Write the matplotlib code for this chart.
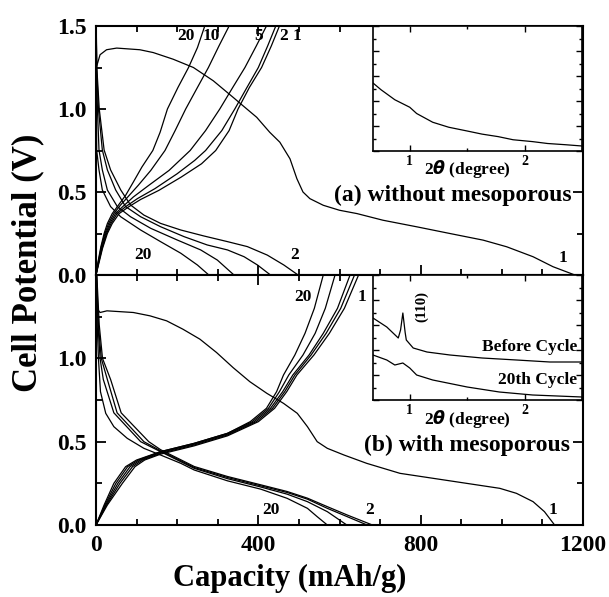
import numpy as np
import matplotlib.pyplot as plt
from matplotlib.ticker import MultipleLocator, NullFormatter

plt.rcParams['font.family'] = ['Liberation Serif', 'DejaVu Serif']
plt.rcParams['font.weight'] = 'bold'
plt.rcParams['mathtext.fontset'] = 'custom'
plt.rcParams['mathtext.it'] = 'DejaVu Sans:italic:bold'
plt.rcParams['mathtext.rm'] = 'Liberation Serif:bold'

# ---- (a) without mesoporous : (capacity mAh/g, potential V) ----
a_dis_1 = [(0, 1.6), (1.6, 1.257), (10, 1.327), (26, 1.357), (51, 1.367), (108, 1.357),
           (141, 1.34), (190, 1.30), (240, 1.25), (289, 1.17), (338, 1.07), (362, 1.02),
           (396, 0.95), (428, 0.86), (453, 0.80), (478, 0.70), (495, 0.58), (510, 0.50),
           (527, 0.46), (560, 0.42), (600, 0.39), (643, 0.37), (707, 0.33), (791, 0.29),
           (872, 0.25), (954, 0.21), (1012, 0.17), (1077, 0.11), (1126, 0.05), (1180, 0.0)]
a_dis_2 = [(0, 1.6), (2, 1.25), (8, 1.0), (20, 0.753), (36, 0.633), (61, 0.512), (85, 0.422),
           (118, 0.361), (159, 0.311), (209, 0.271), (266, 0.235), (324, 0.201),
           (373, 0.171), (422, 0.120), (463, 0.060), (498, 0.0)]
a_dis_5 = [(0, 1.6), (1.5, 1.25), (6, 1.0), (15.6, 0.753), (28, 0.633), (48.5, 0.512),
           (73, 0.412), (110, 0.351), (159, 0.291), (217, 0.231), (274, 0.181),
           (324, 0.151), (365, 0.110), (398, 0.060), (430, 0.0)]
a_dis_10 = [(0, 1.6), (1, 1.25), (3.5, 1.0), (7.4, 0.753), (15.6, 0.633), (28, 0.512),
            (52.6, 0.412), (85, 0.351), (135, 0.281), (200, 0.211), (258, 0.151),
            (299, 0.090), (340, 0.0)]
a_dis_20 = [(0, 1.6), (0.5, 1.25), (1, 1.0), (1.6, 0.753), (7.4, 0.633), (15.6, 0.512),
            (36, 0.412), (60.8, 0.351), (110, 0.271), (159, 0.201), (209, 0.131),
            (250, 0.060), (278, 0.0)]
a_chg_20 = [(0, 0), (5, 0.08), (12, 0.17), (20, 0.25), (28, 0.31), (40, 0.37), (55, 0.42),
            (73, 0.48), (92, 0.56), (113, 0.65), (140, 0.75), (158, 0.86), (176, 1.0),
            (202, 1.13), (228, 1.25), (250, 1.37), (268, 1.5)]
a_chg_10 = [(0, 0), (5, 0.07), (13, 0.17), (22, 0.25), (31, 0.31), (44, 0.37), (60, 0.42),
            (82, 0.48), (104, 0.54), (135, 0.63), (170, 0.75), (195, 0.87), (221, 1.0),
            (250, 1.13), (277, 1.25), (303, 1.38), (328, 1.5)]
a_chg_5 = [(0, 0), (6, 0.07), (14, 0.16), (24, 0.25), (34, 0.31), (48, 0.37), (65, 0.41),
           (92, 0.47), (130, 0.54), (180, 0.63), (232, 0.75), (270, 0.87), (305, 1.0),
           (337, 1.13), (367, 1.25), (395, 1.38), (420, 1.5)]
a_chg_2 = [(0, 0), (6, 0.07), (15, 0.16), (26, 0.25), (37, 0.31), (52, 0.37), (72, 0.41),
           (102, 0.46), (145, 0.52), (200, 0.61), (243, 0.69), (270, 0.75), (310, 0.87),
           (342, 1.0), (372, 1.13), (400, 1.25), (423, 1.38), (443, 1.5)]
a_chg_1 = [(0, 0), (7, 0.07), (16, 0.16), (28, 0.25), (40, 0.31), (57, 0.37), (80, 0.41),
           (110, 0.455), (155, 0.51), (210, 0.59), (260, 0.67), (295, 0.75), (328, 0.87),
           (350, 1.0), (378, 1.13), (408, 1.25), (432, 1.38), (452, 1.5)]

# ---- (b) with mesoporous ----
b_dis_1 = [(0, 1.6), (2, 1.3), (10, 1.275), (27, 1.285), (92, 1.275), (133, 1.255),
           (174, 1.225), (214, 1.175), (256, 1.115), (297, 1.035), (338, 0.944),
           (379, 0.86), (421, 0.79), (462, 0.73), (496, 0.67), (521, 0.59), (545, 0.50),
           (570, 0.46), (611, 0.42), (667, 0.37), (749, 0.31), (831, 0.28), (913, 0.25),
           (995, 0.22), (1036, 0.19), (1077, 0.14), (1105, 0.08), (1130, 0.0)]
b_dis_2 = [(0, 1.6), (8, 1.2), (16, 1.0), (36, 0.873), (62, 0.673), (130, 0.50), (159, 0.452),
           (242, 0.351), (324, 0.291), (406, 0.241), (471, 0.201), (521, 0.161),
           (570, 0.110), (619, 0.060), (681, 0.0)]
b_dis_5 = [(0, 1.6), (6, 1.2), (13, 1.0), (28, 0.873), (52, 0.673), (118, 0.50), (159, 0.445),
           (242, 0.345), (324, 0.285), (406, 0.235), (471, 0.195), (521, 0.155),
           (570, 0.10), (619, 0.05), (668, 0.0)]
b_dis_10 = [(0, 1.6), (5, 1.2), (10, 1.0), (18, 0.873), (44, 0.673), (110, 0.50),
            (159, 0.44), (242, 0.34), (324, 0.278), (406, 0.228), (471, 0.185),
            (521, 0.14), (570, 0.08), (618, 0.0)]
b_dis_20 = [(0, 1.6), (3, 1.2), (6, 1.0), (11, 0.80), (24, 0.67), (44, 0.59), (77, 0.52),
            (118, 0.46), (159, 0.42), (209, 0.37), (242, 0.33), (324, 0.265),
            (406, 0.215), (471, 0.16), (521, 0.10), (545, 0.05), (570, 0.0)]
b_chg_20 = [(0, 0), (20, 0.12), (44, 0.25), (73, 0.35), (100, 0.39), (159, 0.44),
            (242, 0.49), (324, 0.55), (380, 0.62), (420, 0.70), (445, 0.80), (462, 0.90),
            (490, 1.02), (515, 1.15), (538, 1.30), (560, 1.5)]
b_chg_10 = [(0, 0), (22, 0.12), (49, 0.25), (78, 0.35), (105, 0.39), (159, 0.44),
            (242, 0.49), (324, 0.55), (385, 0.62), (425, 0.70), (452, 0.80), (475, 0.90),
            (510, 1.02), (540, 1.15), (565, 1.30), (589, 1.5)]
b_chg_5 = [(0, 0), (24, 0.12), (54, 0.25), (84, 0.35), (110, 0.39), (159, 0.435),
           (242, 0.485), (324, 0.545), (390, 0.62), (430, 0.70), (460, 0.80), (485, 0.90),
           (525, 1.02), (560, 1.15), (595, 1.30), (626, 1.5)]
b_chg_2 = [(0, 0), (26, 0.12), (59, 0.25), (90, 0.35), (115, 0.39), (159, 0.43),
           (242, 0.48), (324, 0.54), (395, 0.62), (435, 0.70), (465, 0.80), (490, 0.90),
           (530, 1.02), (567, 1.15), (603, 1.30), (637, 1.5)]
b_chg_1 = [(0, 0), (28, 0.12), (65, 0.25), (96, 0.35), (120, 0.39), (159, 0.425),
           (242, 0.475), (324, 0.535), (400, 0.62), (440, 0.70), (470, 0.80), (495, 0.90),
           (537, 1.02), (575, 1.15), (612, 1.30), (647, 1.5)]

# ---- XRD insets : (2theta, intensity a.u.) ----
xrd_a = [(0.68, 5.44), (0.75, 4.9), (0.87, 4.1), (1.0, 3.5), (1.06, 3.0), (1.2, 2.3),
         (1.34, 1.9), (1.5, 1.6), (1.63, 1.35), (1.77, 1.15), (1.9, 0.9), (2.07, 0.75),
         (2.2, 0.6), (2.36, 0.5), (2.5, 0.4)]
xrd_b_before = [(0.68, 6.56), (0.80, 5.84), (0.90, 4.96), (0.92, 5.6), (0.94, 6.96),
                (0.96, 5.4), (0.97, 4.8), (1.03, 4.16), (1.15, 3.84), (1.35, 3.6),
                (1.63, 3.36), (1.93, 3.2), (2.22, 3.04), (2.5, 3.04)]
xrd_b_20th = [(0.68, 3.6), (0.80, 3.2), (0.87, 2.8), (0.94, 2.96), (1.0, 2.56), (1.06, 2.0),
              (1.2, 1.6), (1.5, 1.04), (1.78, 0.64), (2.07, 0.4), (2.5, 0.24)]

W, H = 609, 597
fig = plt.figure(figsize=(W / 100, H / 100), dpi=100)


def frac(x0, y0, x1, y1):
    return [x0 / W, 1 - y1 / H, (x1 - x0) / W, (y1 - y0) / H]


def style_main(ax, ylabels):
    ax.set_xlim(0, 1200)
    ax.set_ylim(0, 1.5)
    ax.xaxis.set_major_locator(MultipleLocator(400))
    ax.xaxis.set_minor_locator(MultipleLocator(100))
    ax.yaxis.set_major_locator(MultipleLocator(0.5))
    ax.yaxis.set_minor_locator(MultipleLocator(0.25))
    ax.tick_params(which='both', direction='in', top=True, right=True, width=1.3)
    ax.tick_params(which='major', length=7, labelsize=17, pad=7)
    ax.tick_params(which='minor', length=4)
    ax.set_yticks(ylabels)
    ax.yaxis.set_major_formatter(plt.FuncFormatter(lambda v, p: f"{v:.1f}"))
    for s in ax.spines.values():
        s.set_linewidth(1.5)


def draw(ax, pts):
    d = np.array(pts)
    ax.plot(d[:, 0], d[:, 1], '-', color='k', lw=0.9, clip_on=True)


ax_a = fig.add_axes(frac(96, 26, 583, 275))
ax_b = fig.add_axes(frac(96, 275, 583, 525))
style_main(ax_a, [0.0, 0.5, 1.0, 1.5])
style_main(ax_b, [0.0, 0.5, 1.0])
ax_a.xaxis.set_major_formatter(NullFormatter())

for c in [a_dis_1, a_dis_2, a_dis_5, a_dis_10, a_dis_20,
          a_chg_20, a_chg_10, a_chg_5, a_chg_2, a_chg_1]:
    draw(ax_a, c)
for c in [b_dis_1, b_dis_2, b_dis_5, b_dis_10, b_dis_20,
          b_chg_20, b_chg_10, b_chg_5, b_chg_2, b_chg_1]:
    draw(ax_b, c)

lab = dict(fontsize=12.5, fontweight='bold', ha='center', va='center')
for t, x in [("20", 222), ("10", 283), ("5", 401), ("2", 462), ("1", 495)]:
    ax_a.text(x, 1.44, t, **lab)
ax_a.text(115, 0.12, "20", **lab)
ax_a.text(490, 0.12, "2", **lab)
ax_a.text(1150, 0.10, "1", **lab)
ax_a.text(1173, 0.48, "(a) without mesoporous", fontsize=17, fontweight='bold',
          ha='right', va='center')

ax_b.text(510, 1.37, "20", **lab)
ax_b.text(655, 1.37, "1", **lab)
ax_b.text(431, 0.09, "20", **lab)
ax_b.text(674, 0.09, "2", **lab)
ax_b.text(1125, 0.09, "1", **lab)
ax_b.text(1168, 0.48, "(b) with mesoporous", fontsize=17, fontweight='bold',
          ha='right', va='center')


def style_inset(ax):
    ax.set_xlim(0.68, 2.5)
    ax.set_ylim(0, 10)
    ax.set_xticks([1, 2])
    ax.xaxis.set_minor_locator(MultipleLocator(0.5))
    ax.yaxis.set_major_locator(MultipleLocator(2))
    ax.yaxis.set_minor_locator(MultipleLocator(1))
    ax.yaxis.set_major_formatter(NullFormatter())
    ax.tick_params(which='both', direction='in', top=True, right=True, width=1.0)
    ax.tick_params(which='major', length=4, labelsize=10, pad=3)
    ax.tick_params(which='minor', length=2.5)
    for s in ax.spines.values():
        s.set_linewidth(1.2)
    ax.text(0.45, -0.06, r"2$\theta$ (degree)", transform=ax.transAxes, fontsize=12.5,
            fontweight='bold', ha='center', va='top')


in_a = fig.add_axes(frac(373, 26, 582, 151))
in_b = fig.add_axes(frac(373, 275, 582, 400))
style_inset(in_a)
style_inset(in_b)
draw(in_a, xrd_a)
draw(in_b, xrd_b_before)
draw(in_b, xrd_b_20th)
in_b.text(1.10, 7.5, "(110)", rotation=90, fontsize=10.5, fontweight='bold',
          ha='center', va='center')
in_b.text(2.46, 4.25, "Before Cycle", fontsize=12.5, fontweight='bold', ha='right', va='center')
in_b.text(2.46, 1.6, "20th Cycle", fontsize=12.5, fontweight='bold', ha='right', va='center')

fig.text(290 / W, 1 - 578 / H, "Capacity (mAh/g)", fontsize=22, fontweight='bold',
         ha='center', va='center')
fig.text(28 / W, 1 - 263 / H, "Cell Potential (V)", fontsize=25, fontweight='bold',
         ha='center', va='center', rotation=90)

fig.savefig("out.png", dpi=100)
